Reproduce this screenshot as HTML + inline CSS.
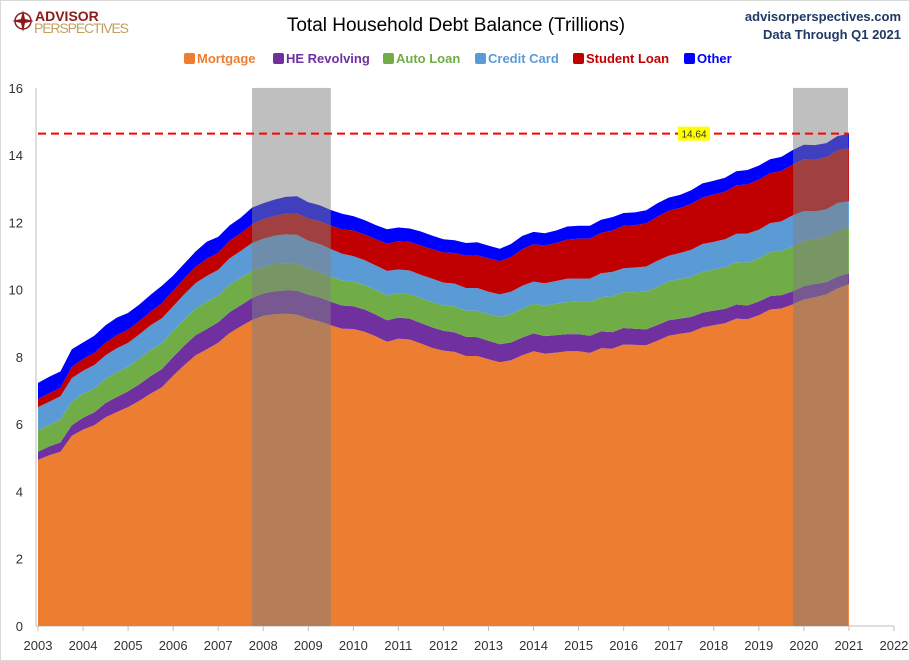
<!DOCTYPE html>
<html><head><meta charset="utf-8"><style>
body{margin:0;background:#fff;font-family:"Liberation Sans",sans-serif}
#wrap{position:relative;width:910px;height:661px;overflow:hidden;border:1px solid #d9d9d9;box-sizing:border-box}
</style></head><body>
<div id="wrap">
<svg id="c" width="910" height="661"></svg>
</div>
<script>
const years=["2003","2004","2005","2006","2007","2008","2009","2010","2011","2012","2013","2014","2015","2016","2017","2018","2019","2020","2021","2022"];
const yTicks=[0,2,4,6,8,10,12,14,16];
const mortgage=[4.94,5.08,5.18,5.66,5.84,5.97,6.21,6.36,6.51,6.70,6.91,7.10,7.44,7.76,8.05,8.23,8.42,8.71,8.91,9.10,9.23,9.27,9.29,9.26,9.14,9.06,8.94,8.84,8.83,8.75,8.61,8.45,8.54,8.52,8.40,8.27,8.19,8.15,8.03,8.03,7.93,7.84,7.90,8.05,8.17,8.10,8.13,8.17,8.17,8.12,8.26,8.25,8.37,8.36,8.35,8.48,8.63,8.69,8.74,8.88,8.94,9.00,9.14,9.12,9.24,9.41,9.44,9.56,9.71,9.78,9.86,10.04,10.16];
const heRevolving=[.24,.26,.28,.31,.35,.38,.42,.45,.47,.49,.52,.54,.56,.58,.60,.60,.61,.62,.63,.65,.66,.68,.69,.71,.71,.71,.70,.69,.68,.66,.65,.64,.63,.62,.61,.61,.59,.58,.57,.56,.55,.54,.53,.53,.53,.52,.52,.51,.51,.51,.50,.49,.49,.48,.47,.47,.46,.45,.45,.44,.44,.43,.42,.41,.41,.40,.40,.39,.39,.39,.36,.35,.33];
const autoLoan=[.64,.64,.68,.70,.72,.71,.72,.73,.73,.76,.78,.77,.77,.78,.79,.81,.79,.81,.81,.81,.79,.81,.81,.79,.77,.75,.75,.74,.73,.73,.73,.74,.73,.73,.74,.75,.75,.77,.78,.78,.79,.81,.84,.86,.88,.90,.93,.95,.97,1.00,1.02,1.06,1.07,1.09,1.12,1.13,1.16,1.17,1.19,1.21,1.22,1.24,1.26,1.27,1.28,1.30,1.31,1.33,1.35,1.34,1.36,1.37,1.37];
const creditCard=[.69,.69,.69,.70,.68,.70,.70,.72,.71,.72,.73,.74,.74,.75,.76,.77,.77,.79,.80,.83,.84,.85,.86,.87,.84,.84,.82,.80,.76,.74,.73,.73,.70,.70,.69,.70,.68,.68,.67,.68,.67,.67,.67,.68,.66,.67,.68,.70,.68,.70,.71,.73,.71,.73,.75,.78,.76,.78,.81,.83,.82,.83,.84,.87,.85,.87,.88,.93,.89,.82,.81,.82,.77];
const studentLoan=[.24,.25,.26,.33,.35,.36,.37,.39,.39,.40,.41,.45,.46,.47,.48,.51,.51,.52,.53,.55,.58,.59,.61,.64,.66,.68,.70,.72,.76,.76,.78,.81,.84,.85,.87,.87,.90,.91,.96,.97,.99,.99,1.03,1.08,1.11,1.12,1.13,1.16,1.19,1.19,1.20,1.23,1.26,1.26,1.28,1.31,1.34,1.34,1.36,1.38,1.41,1.41,1.44,1.46,1.49,1.48,1.50,1.51,1.54,1.54,1.55,1.56,1.58];
const other=[.48,.49,.48,.53,.49,.51,.52,.52,.50,.49,.50,.52,.45,.44,.46,.51,.47,.46,.46,.50,.47,.48,.50,.51,.48,.47,.46,.47,.43,.43,.42,.43,.41,.40,.42,.41,.39,.38,.38,.39,.38,.37,.39,.40,.37,.37,.37,.39,.38,.38,.39,.40,.38,.38,.39,.40,.39,.39,.41,.42,.41,.42,.42,.43,.42,.42,.42,.43,.43,.43,.42,.43,.42];
const recessions=[[2007.75,2009.5],[2019.76,2020.98]];
const latestValue=14.64;
const seriesNames=["Mortgage","HE Revolving","Auto Loan","Credit Card","Student Loan","Other"];
const seriesColors=["#ED7D31","#7030A0","#70AD47","#5B9BD5","#C00000","#0000FF"];
const series=[mortgage,heRevolving,autoLoan,creditCard,studentLoan,other];

const NS="http://www.w3.org/2000/svg";
const svg=document.getElementById('c');
const X0=37,XPY=45.05,Y0=625,YPU=33.63;
const xs=t=>X0+(t-2003)*XPY;
const ys=v=>Y0-v*YPU;
function mk(tag,attrs,parent){const e=document.createElementNS(NS,tag);for(const k in attrs)e.setAttribute(k,attrs[k]);(parent||svg).appendChild(e);return e;}

// axes frame
const axis=mk('g',{});


mk('line',{x1:X0-2,y1:ys(16),x2:X0-2,y2:Y0,stroke:'#bfbfbf'},axis);
mk('line',{x1:X0-2,y1:Y0,x2:893,y2:Y0,stroke:'#bfbfbf'},axis);
yTicks.forEach(v=>{
 const t=mk('text',{x:22,y:ys(v)+5,'text-anchor':'end','font-size':13,fill:'#333'},axis);
 t.textContent=v;
 
 
});
years.forEach((y,i)=>{
 const x=xs(2003+i);
 mk('line',{x1:x,y1:Y0,x2:x,y2:Y0+5,stroke:'#bfbfbf'},axis);
 const t=mk('text',{x:x,y:Y0+24,'text-anchor':'middle','font-size':13,fill:'#333'},axis);
 t.textContent=y;
 
 
});

// stacked areas
const n=mortgage.length;
let base=new Array(n).fill(0);
series.forEach((s,k)=>{
 const top=base.map((b,i)=>b+s[i]);
 let d='';
 for(let i=0;i<n;i++)d+=(i?'L':'M')+xs(2003+i/4).toFixed(1)+','+ys(top[i]).toFixed(1);
 for(let i=n-1;i>=0;i--)d+='L'+xs(2003+i/4).toFixed(1)+','+ys(base[i]).toFixed(1);
 const p=mk('path',{d:d+'Z',fill:seriesColors[k]});
 
 
 base=top;
});

// recessions
recessions.forEach(r=>{
 const rc=mk('rect',{x:xs(r[0]),y:ys(16),width:xs(r[1])-xs(r[0]),height:Y0-ys(16),fill:'rgba(128,128,128,0.5)'});
 
 
});

// latest value line
const ln=mk('line',{x1:X0,y1:ys(latestValue),x2:xs(2021),y2:ys(latestValue),stroke:'#ff0000','stroke-width':2,'stroke-dasharray':'8,5'});


const lb=mk('rect',{x:677,y:ys(latestValue)-7,width:32,height:14,fill:'#ffff00'});


const lt=mk('text',{x:693,y:ys(latestValue)+4,'text-anchor':'middle','font-size':10,fill:'#333'});
lt.textContent=latestValue.toFixed(2);



// title
const ti=mk('text',{x:455,y:30,'text-anchor':'middle','font-size':19,fill:'#000'});
ti.textContent='Total Household Debt Balance (Trillions)';


const s1=mk('text',{x:900,y:20,'text-anchor':'end','font-size':13,'font-weight':'bold',fill:'#1f3864'});
s1.textContent='advisorperspectives.com';


const s2=mk('text',{x:900,y:38,'text-anchor':'end','font-size':13,'font-weight':'bold',fill:'#1f3864'});
s2.textContent='Data Through Q1 2021';



// logo
const lg=mk('g',{});


mk('circle',{cx:22,cy:20,r:8,fill:'none',stroke:'#8b1a1a','stroke-width':1.5},lg);
mk('path',{d:'M22,9 L24,18 L33,20 L24,22 L22,31 L20,22 L11,20 L20,18Z',fill:'#8b1a1a'},lg);
const l1=mk('text',{x:34,y:20,'font-size':14,'font-weight':'bold',fill:'#8b1a1a'},lg);l1.textContent='ADVISOR';
const l2=mk('text',{x:33,y:32,'font-size':14,fill:'#c0a060','textLength':95},lg);l2.textContent='PERSPECTIVES';

// legend
const legX=[183,272,382,474,572,683];
const lgd=mk('g',{});


seriesNames.forEach((nm,k)=>{
 const g=mk('g',{},lgd);
 
 
 mk('rect',{x:legX[k],y:52,width:11,height:11,rx:2,fill:seriesColors[k]},g);
 const t=mk('text',{x:legX[k]+13,y:62,'font-size':13,'font-weight':'bold',fill:seriesColors[k]},g);
 t.textContent=nm;
});
</script>
</body></html>
